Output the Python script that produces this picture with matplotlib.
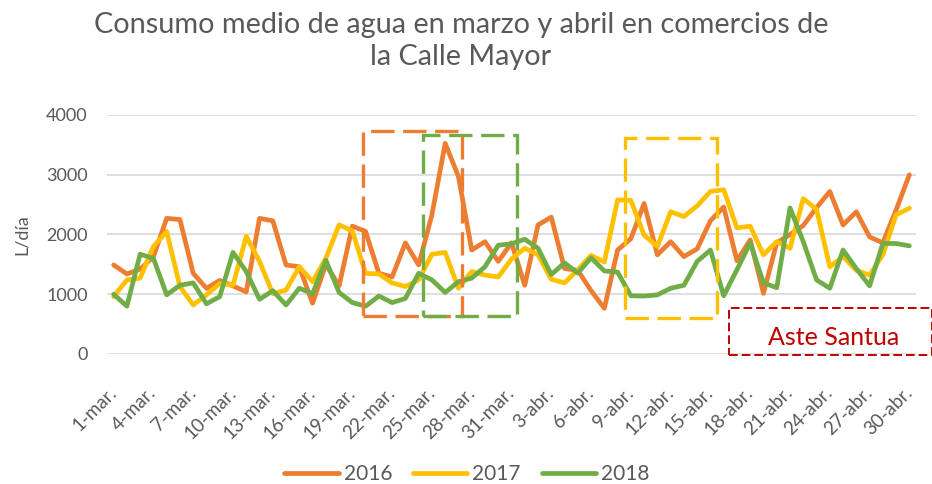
import matplotlib
matplotlib.use("Agg")
import matplotlib.pyplot as plt
from matplotlib.patches import Rectangle
import numpy as np

plt.rcParams['font.family'] = ['Lato', 'DejaVu Sans']

# ---------------- data ----------------
months = ["mar."] * 31 + ["abr."] * 30
days = list(range(1, 32)) + list(range(1, 31))
categories = [f"{d}-{m}" for d, m in zip(days, months)]

s2016 = [1490, 1340, 1420, 1630, 2270, 2250, 1350, 1100, 1230, 1140,
         1040, 2270, 2230, 1490, 1460, 850, 1500, 1140, 2140, 2050,
         1350, 1290, 1860, 1490, 2330, 3525, 2970, 1740, 1880, 1550,
         1860, 1150, 2160, 2290, 1430, 1400, 1060, 765, 1740, 1930,
         2520, 1660, 1880, 1630, 1760, 2230, 2460, 1560, 1910, 1015,
         1860, 2000, 2150, 2450, 2720, 2160, 2380, 1960, 1860, 2410,
         3000]
s2017 = [960, 1240, 1270, 1800, 2050, 1130, 820, 990, 1180, 1150,
         1970, 1550, 1010, 1070, 1460, 1210, 1600, 2160, 2060, 1350,
         1340, 1190, 1130, 1240, 1670, 1700, 1100, 1380, 1320, 1290,
         1590, 1770, 1660, 1250, 1190, 1410, 1650, 1540, 2580, 2570,
         1990, 1800, 2380, 2300, 2480, 2720, 2750, 2110, 2140, 1660,
         1880, 1770, 2600, 2420, 1460, 1630, 1400, 1320, 1660, 2330,
         2440]
s2018 = [1000, 800, 1670, 1600, 990, 1150, 1190, 840, 960, 1700,
         1380, 915, 1060, 820, 1100, 1010, 1570, 1030, 860, 800,
         970, 860, 930, 1350, 1240, 1030, 1210, 1270, 1460, 1820,
         1845, 1920, 1770, 1330, 1525, 1355, 1610, 1390, 1370, 975,
         970, 990, 1100, 1150, 1550, 1740, 975, 1410, 1860, 1190,
         1110, 2445, 1880, 1240, 1100, 1740, 1430, 1140, 1850, 1850,
         1810]
series_names = ["2016", "2017", "2018"]
colors = ["#ED7D31", "#FFC000", "#70AD47"]

title_lines = ["Consumo medio de agua en marzo y abril en comercios de",
               "la Calle Mayor"]
ylabel = "L/día"
note = "Aste Santua"

# highlight boxes: (x0, x1, y0, y1) in category / value units
boxes = [(18.8, 26.3, 636, 3724),
         (23.3, 30.45, 636, 3665),
         (38.57, 45.53, 597, 3620)]
box_colors = ["#ED7D31", "#70AD47", "#FFC000"]
note_box = (46.4, 61.7, -17, 765)

# ---------------- figure ----------------
W, H = 932, 484
fig = plt.figure(figsize=(W / 100, H / 100), dpi=100)
ax = fig.add_axes([107 / W, 1 - 354 / H, (916 - 107) / W, (354 - 115) / H])

x = np.arange(len(categories))
for vals, name, c in zip([s2016, s2017, s2018], series_names, colors):
    ax.plot(x, vals, color=c, lw=3.4, label=name,
            solid_joinstyle='round', solid_capstyle='round', zorder=3)

ax.set_xlim(-0.5, len(categories) - 0.5)
ax.set_ylim(0, 4000)
ax.set_yticks([0, 1000, 2000, 3000, 4000])
ax.yaxis.grid(True, color="#D9D9D9", lw=1.2)
ax.set_axisbelow(True)
for s in ax.spines.values():
    s.set_visible(False)
ax.tick_params(axis='both', length=0, labelsize=13, labelcolor="#595959")
ax.tick_params(axis='y', pad=14)

tick_idx = list(range(0, len(categories), 3))
ax.set_xticks(tick_idx)
ax.set_xticklabels([categories[i] for i in tick_idx], rotation=45,
                   ha='right', va='center', rotation_mode='anchor')
ax.tick_params(axis='x', pad=26, labelsize=13.5)

fig.text(22 / W, 1 - 235 / H, ylabel, rotation=90, ha='center', va='center',
         fontsize=13, color="#595959")

for ln, yb in zip(title_lines, [33, 65]):
    fig.text(461 / W, 1 - yb / H, ln, ha='center', va='baseline',
             fontsize=20.8, color="#595959")

for (x0, x1, y0, y1), c in zip(boxes, box_colors):
    ax.add_patch(Rectangle((x0, y0), x1 - x0, y1 - y0, fill=False,
                           edgecolor=c, lw=2.4, linestyle=(0, (7, 2.6)),
                           clip_on=False, zorder=5))

x0, x1, y0, y1 = note_box
ax.add_patch(Rectangle((x0, y0), x1 - x0, y1 - y0, fill=False,
                       edgecolor="#C00000", lw=1.4, linestyle=(0, (4.5, 2)),
                       clip_on=False, zorder=5))
ax.text(54.3, 150, note, color="#C00000", fontsize=18, ha='center',
        va='baseline', clip_on=False, zorder=6)

fig.legend(loc='center', bbox_to_anchor=(467 / W, 1 - 474 / H), ncol=3,
           frameon=False, fontsize=15, handlelength=2.6, handletextpad=0.25,
           columnspacing=1.0, labelcolor="#595959")

fig.savefig("out.png", dpi=100)
